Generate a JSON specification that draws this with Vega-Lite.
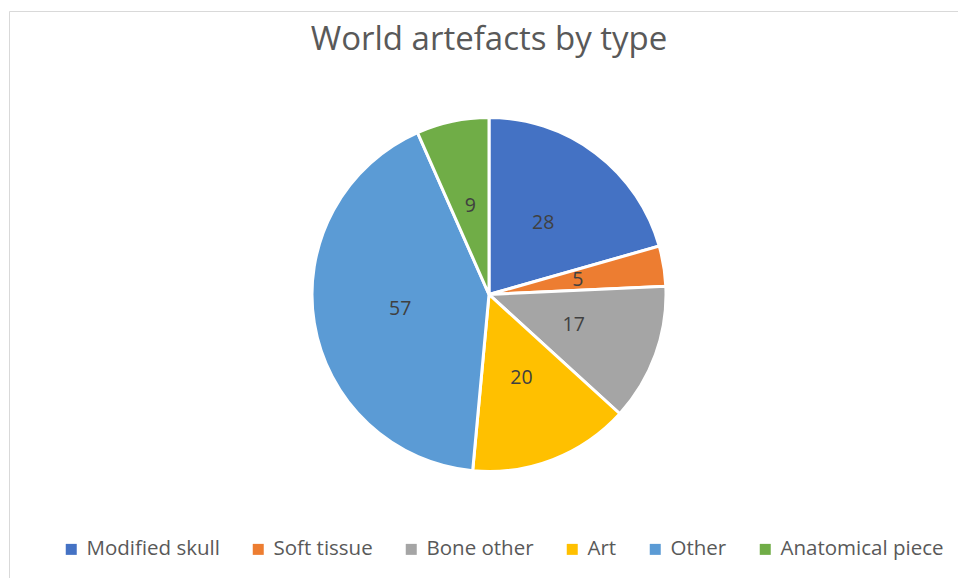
{
  "$schema": "https://vega.github.io/schema/vega-lite/v6.json",
  "autosize": "none",
  "width": 960,
  "height": 567,
  "padding": {"left": 9, "top": 11, "right": 0, "bottom": 0},
  "background": "white",
  "view": {"stroke": "#d9d9d9", "strokeWidth": 1, "fill": "white"},
  "title": {
    "text": "World artefacts by type",
    "orient": "top",
    "anchor": "middle",
    "offset": -46,
    "font": "Open Sans",
    "fontSize": 33,
    "fontWeight": "normal",
    "color": "#595959"
  },
  "data": {
    "values": [
      {"type": "Modified skull", "count": 28, "idx": 1},
      {"type": "Soft tissue", "count": 5, "idx": 2},
      {"type": "Bone other", "count": 17, "idx": 3},
      {"type": "Art", "count": 20, "idx": 4},
      {"type": "Other", "count": 57, "idx": 5},
      {"type": "Anatomical piece", "count": 9, "idx": 6}
    ]
  },
  "encoding": {
    "theta": {"field": "count", "type": "quantitative", "stack": true},
    "order": {"field": "idx", "type": "quantitative"},
    "color": {
      "field": "type",
      "type": "nominal",
      "scale": {
        "domain": ["Modified skull", "Soft tissue", "Bone other", "Art", "Other", "Anatomical piece"],
        "range": ["#4472C4", "#ED7D31", "#A5A5A5", "#FFC000", "#5B9BD5", "#70AD47"]
      },
      "legend": {
        "title": null,
        "orient": "none",
        "legendX": 52,
        "legendY": 528,
        "padding": 0,
        "direction": "horizontal",
        "symbolType": "square",
        "symbolSize": 121,
        "symbolStrokeWidth": 0,
        "labelFont": "Open Sans",
        "labelFontSize": 20.5,
        "labelColor": "#595959",
        "labelOffset": 5,
        "columnPadding": 28,
        "labelLimit": 300
      }
    }
  },
  "layer": [
    {
      "mark": {"type": "arc", "outerRadius": 177, "stroke": "#ffffff", "strokeWidth": 3}
    },
    {
      "mark": {"type": "text", "radius": 90, "font": "Open Sans", "fontSize": 19.5, "color": "#404040"},
      "encoding": {
        "text": {"field": "count", "type": "quantitative"},
        "color": {"value": "#404040"}
      }
    }
  ]
}
